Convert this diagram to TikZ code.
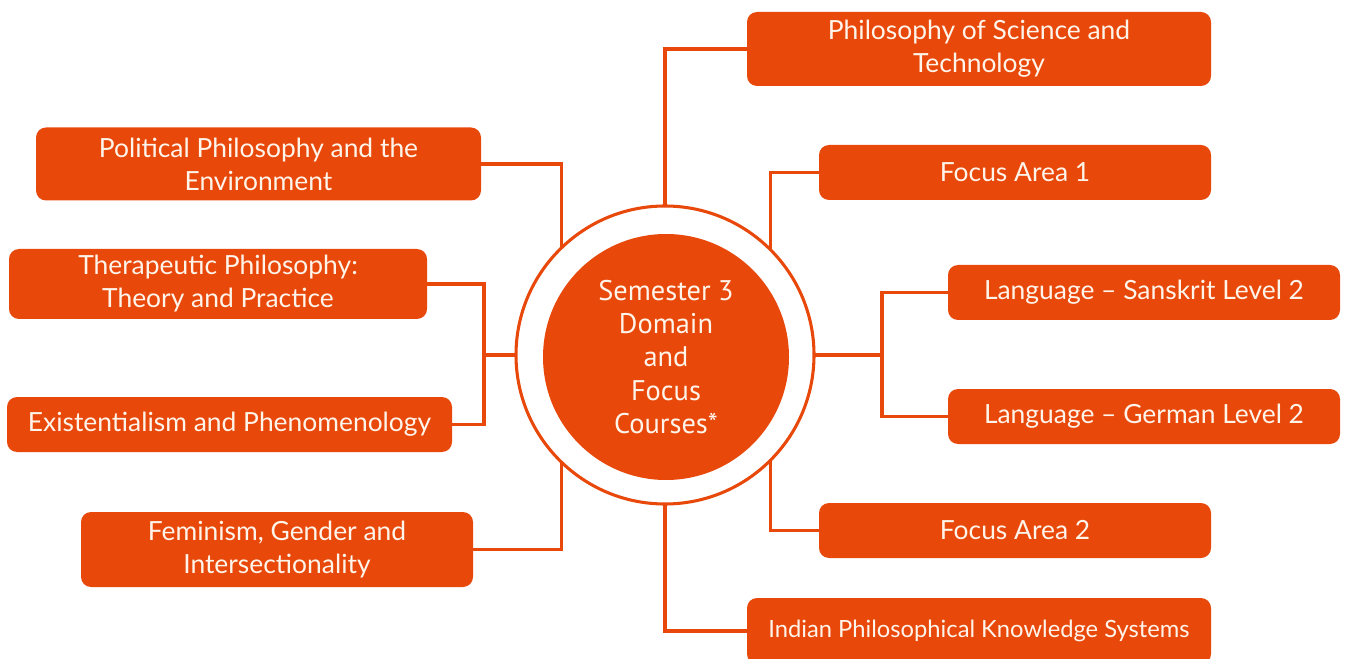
\documentclass[tikz,border=0pt]{standalone}
\usepackage{fontspec}
\setmainfont{Lato}
\newfontfamily\ctrfont{PT Sans}
\definecolor{org}{RGB}{232,72,10}
\definecolor{txt}{RGB}{255,244,234}
\begin{document}
\begin{tikzpicture}[x=0.75pt,y=-0.75pt,
  box/.style={fill=org,rounded corners=7.5pt,text=txt,align=center,inner sep=0pt,outer sep=0pt,font=\fontsize{19.8}{24.8}\selectfont},
  conn/.style={draw=org,line width=2.3pt}]
\path[use as bounding box] (0,0) rectangle (1346,659);
\node[conn,circle,fill=white,minimum size=298*0.75pt,inner sep=0pt,outer sep=0pt] (ring) at (665,355) {};
\node[circle,fill=org,minimum size=246*0.75pt,inner sep=0pt,text=txt,align=center,font=\ctrfont\fontsize{21.3}{24.8}\selectfont] (core) at (666,357) {Semester 3\\Domain\\and\\Focus\\Courses*};
\node[box,minimum width=464*0.75pt,minimum height=74*0.75pt] (pst) at (979,49) {Philosophy of Science and\\Technology};
\node[box,minimum width=445*0.75pt,minimum height=73*0.75pt] (pol) at (258.5,164) {Political Philosophy and the\\Environment};
\node[box,minimum width=418*0.75pt,minimum height=70*0.75pt] (ther) at (218,284) {Therapeutic Philosophy:\\Theory and Practice};
\node[box,minimum width=445*0.75pt,minimum height=55*0.75pt] (exi) at (229.5,424.5) {Existentialism and Phenomenology};
\node[box,minimum width=392*0.75pt,minimum height=75*0.75pt] (fem) at (277,549.5) {Feminism, Gender and\\Intersectionality};
\node[box,minimum width=464*0.75pt,minimum height=66*0.75pt,font=\fontsize{17.8}{22}\selectfont] (ipk) at (979,631) {Indian Philosophical Knowledge Systems};
\node[box,minimum width=392*0.75pt,minimum height=55*0.75pt] (fa1) at (1015,172.5) {Focus Area 1};
\node[box,minimum width=392*0.75pt,minimum height=55*0.75pt] (san) at (1144,292.5) {Language -- Sanskrit Level 2};
\node[box,minimum width=392*0.75pt,minimum height=55*0.75pt] (ger) at (1144,416.5) {Language -- German Level 2};
\node[box,minimum width=392*0.75pt,minimum height=55*0.75pt] (fa2) at (1015,530.5) {Focus Area 2};
% connectors
\draw[conn] (pst.west) -| (ring.north);
\draw[conn] (ipk.west) -| (ring.south);
\draw[conn] (pol.east) -| (ring.134);
\draw[conn] (fem.east) -| (ring.226);
\draw[conn] (fa1.west) -| (ring.45);
\draw[conn] (fa2.west) -| (ring.-45);
\draw[conn] (ther.east) -- ++(57,0) coordinate (tl) |- (exi.east);
\draw[conn] (ring.west) -- (tl |- ring.west);
\draw[conn] (san.west) -- ++(-66,0) coordinate (tr) |- (ger.west);
\draw[conn] (ring.east) -- (tr |- ring.east);
\end{tikzpicture}
\end{document}
